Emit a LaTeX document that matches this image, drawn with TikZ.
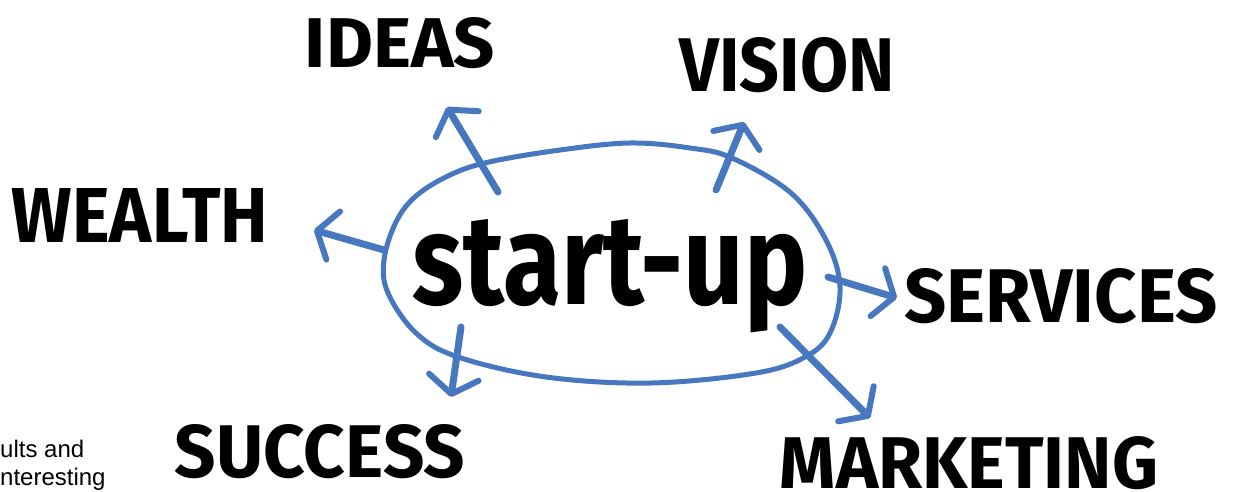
\documentclass[tikz,border=0pt]{standalone}
\usepackage{fontspec}
\usepackage{graphicx}
\setmainfont{Liberation Sans}
\newfontfamily\handfont{Fira Sans}
\usetikzlibrary{arrows.meta}
\definecolor{pen}{RGB}{71,119,190}
% scale a word to a given width and height (in pt)
\newcommand\fitword[3]{\resizebox{#1pt}{#2pt}{\handfont\bfseries #3}}
\begin{document}
\begin{tikzpicture}[x=1pt,y=-1pt,
  word/.style={inner sep=0pt, anchor=base},
  note/.style={inner sep=0pt, anchor=base west, font=\fontsize{24}{28}\selectfont},
  link/.style={draw=pen, line width=7pt, line cap=round,
    -{Straight Barb[length=17pt,width=50pt,line width=6pt,round]}},
  loop/.style={draw=pen, line width=5pt},
]
\useasboundingbox[fill=white] (0,0) rectangle (1233,492);

% cut-off note at the lower left
\node[note] (n1) at (0,457) {ults and};
\node[note] (n2) at (0,485) {nteresting};

% central loop
\draw[loop] plot[smooth cycle, tension=0.6] coordinates {
  (384,260) (396,222) (416,196) (450,175) (489,162) (560,150) (630,143)
  (690,148) (732,158) (791,193) (826,240) (840,287) (830,333) (805,357)
  (756,373) (651,383) (546,377) (458,357) (416,333) (388,293)};

% words
\node[word] (core) at (610,304) {\fitword{395}{85}{start-up}};
\node[word] (ideas) at (400,68) {\fitword{190}{50}{IDEAS}};
\node[word] (vision) at (787,92) {\fitword{215}{54}{VISION}};
\node[word] (wealth) at (140,242) {\fitword{256}{54}{WEALTH}};
\node[word] (services) at (1061,322) {\fitword{313}{54}{SERVICES}};
\node[word] (success) at (320,477) {\fitword{290}{53}{SUCCESS}};
\node[word] (marketing) at (969,488) {\fitword{378}{52}{MARKETING}};

% arrow ends
\coordinate (iT) at (498,192); \coordinate (iH) at (447,107);
\coordinate (vT) at (716,190); \coordinate (vH) at (744,122);
\coordinate (wT) at (384,250); \coordinate (wH) at (314,230);
\coordinate (sT) at (461,327); \coordinate (sH) at (451,397);
\coordinate (rT) at (828,277); \coordinate (rH) at (897,298);
\coordinate (mT) at (780,327); \coordinate (mH) at (870,418);

\draw[link] (iT) -- (iH);
\draw[link] (vT) -- (vH);
\draw[link] (wT) -- (wH);
\draw[link] (sT) -- (sH);
\draw[link] (rT) -- (rH);
\draw[link] (mT) -- (mH);
\end{tikzpicture}
\end{document}
